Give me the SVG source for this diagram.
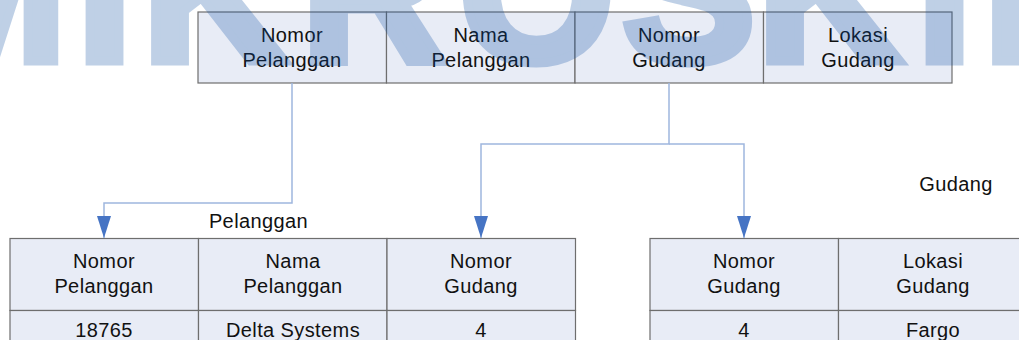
<svg xmlns="http://www.w3.org/2000/svg" width="1019" height="340" viewBox="0 0 1019 340">
  <style>
    .cell { fill: #e8ecf6; stroke: #6e6e6e; stroke-width: 1.2; }
    .txt { font-family: "Liberation Sans", Arial, sans-serif; font-size: 20px; letter-spacing: 0.4px; fill: #111; text-anchor: middle; }
    .lbl { font-family: "Liberation Sans", Arial, sans-serif; font-size: 20px; letter-spacing: 0.4px; fill: #111; text-anchor: middle; }
    .link { fill: none; stroke: #9fb6de; stroke-width: 1.5; }
    .head { fill: #4674c4; }
    .mark { font-family: "Liberation Sans", Arial, sans-serif; font-weight: 700; font-size: 200px; fill: #0b4ea2; stroke: #0b4ea2; stroke-width: 9; stroke-linejoin: miter; }
  </style>
  <defs>
    <!-- head drawn along +x so orient="auto" turns it with the final segment -->
    <marker id="arrow" viewBox="0 0 22 14" refX="22" refY="7" markerWidth="22" markerHeight="14" markerUnits="userSpaceOnUse" orient="auto">
      <polygon class="head" points="0,0 22,7 0,14"/>
    </marker>
  </defs>
  <rect width="1019" height="340" fill="#ffffff"/>

  <!-- source relation: all four attributes -->
  <g id="source">
    <rect class="cell" x="198" y="12" width="188.5" height="71"/>
    <rect class="cell" x="386.5" y="12" width="188.5" height="71"/>
    <rect class="cell" x="575" y="12" width="188.5" height="71"/>
    <rect class="cell" x="763.5" y="12" width="188.5" height="71"/>
    <text class="txt" x="292" y="41.7">Nomor</text>
    <text class="txt" x="292" y="66.5">Pelanggan</text>
    <text class="txt" x="481" y="41.7">Nama</text>
    <text class="txt" x="481" y="66.5">Pelanggan</text>
    <text class="txt" x="669" y="41.7">Nomor</text>
    <text class="txt" x="669" y="66.5">Gudang</text>
    <text class="txt" x="858" y="41.7">Lokasi</text>
    <text class="txt" x="858" y="66.5">Gudang</text>
  </g>

  <!-- Pelanggan relation -->
  <g id="pelanggan">
    <text class="lbl" x="258.5" y="227.5">Pelanggan</text>
    <rect class="cell" x="10" y="238.5" width="188.5" height="72"/>
    <rect class="cell" x="198.5" y="238.5" width="188.5" height="72"/>
    <rect class="cell" x="387" y="238.5" width="188.5" height="72"/>
    <rect class="cell" x="10" y="310.5" width="188.5" height="45"/>
    <rect class="cell" x="198.5" y="310.5" width="188.5" height="45"/>
    <rect class="cell" x="387" y="310.5" width="188.5" height="45"/>
    <text class="txt" x="104" y="268.3">Nomor</text>
    <text class="txt" x="104" y="292.8">Pelanggan</text>
    <text class="txt" x="293" y="268.3">Nama</text>
    <text class="txt" x="293" y="292.8">Pelanggan</text>
    <text class="txt" x="481" y="268.3">Nomor</text>
    <text class="txt" x="481" y="292.8">Gudang</text>
    <text class="txt" x="104" y="336.7">18765</text>
    <text class="txt" x="293" y="336.7">Delta Systems</text>
    <text class="txt" x="481" y="336.7">4</text>
  </g>

  <!-- Gudang relation -->
  <g id="gudang">
    <text class="lbl" x="956" y="190.5">Gudang</text>
    <rect class="cell" x="650" y="238.5" width="188.5" height="72"/>
    <rect class="cell" x="838.5" y="238.5" width="188.5" height="72"/>
    <rect class="cell" x="650" y="310.5" width="188.5" height="45"/>
    <rect class="cell" x="838.5" y="310.5" width="188.5" height="45"/>
    <text class="txt" x="744" y="268.3">Nomor</text>
    <text class="txt" x="744" y="292.8">Gudang</text>
    <text class="txt" x="933" y="268.3">Lokasi</text>
    <text class="txt" x="933" y="292.8">Gudang</text>
    <text class="txt" x="744" y="336.7">4</text>
    <text class="txt" x="933" y="336.7">Fargo</text>
  </g>

  <!-- decomposition connectors -->
  <g id="connectors">
    <path class="link" d="M292,83 V203 H104 V238" marker-end="url(#arrow)"/>
    <path class="link" d="M669,83 V144 H481 V238" marker-end="url(#arrow)"/>
    <path class="link" d="M669,144 H744 V238" marker-end="url(#arrow)"/>
  </g>

  <!-- translucent wordmark laid over the page -->
  <g id="wordmark" opacity="0.26">
    <text class="mark" x="-99.5 76.7 142.3 301.3 459 622 757.3 916.7 983.3" y="60.5">MIKROSKIL</text>
  </g>
</svg>
